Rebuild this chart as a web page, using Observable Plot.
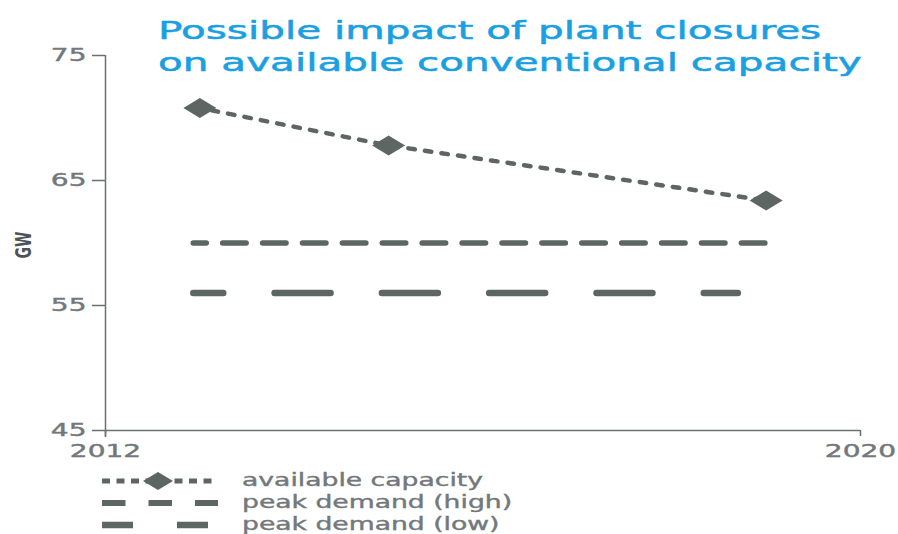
<!DOCTYPE html>
<html>
<head>
<meta charset="utf-8">
<script src="https://cdn.jsdelivr.net/npm/d3@7"></script>
<script src="https://cdn.jsdelivr.net/npm/@observablehq/plot@0.6"></script>
<style>
  body { margin: 0; background: #fff; }
  #chart { position: relative; width: 898px; height: 534px; overflow: hidden; }
  #title {
    position: absolute; left: 158px; top: 15px; z-index: 2;
    font-family: "DejaVu Sans", sans-serif; font-size: 25px; line-height: 32px;
    color: #1a9fe3; white-space: nowrap;
    -webkit-text-stroke: 0.5px #1a9fe3;
    transform: scaleX(1.62); transform-origin: 0 0;
  }
</style>
</head>
<body>
<div id="chart">
  <div id="title">Possible impact of plant closures<br>on available conventional capacity</div>
</div>
<script>
// Available conventional capacity (GW) at the three assessment years
const capacityYears = [2013, 2015, 2019];
const capacityGW = [70.8, 67.8, 63.4];

// Peak demand scenarios (GW), flat over the period
const highYears = [2012.93, 2019];
const highGW = [60, 60];
const lowYears = [2012.93, 2018.7];
const lowGW = [56, 56];

// Axis ticks
const yTicks = [45, 55, 65, 75];
const xTicks = [2012, 2020];

// Legend entries
const legendLabels = ["available capacity", "peak demand (high)", "peak demand (low)"];

const ink = "#5e6664";
const axisInk = "#6b706f";
const labelInk = "#72787c";

const capacity = capacityYears.map((x, i) => ({x, y: capacityGW[i]}));
const high = highYears.map((x, i) => ({x, y: highGW[i]}));
const low = lowYears.map((x, i) => ({x, y: lowGW[i]}));

// Flattened diamond marker
const flatDiamond = (w, h) => ({
  draw(ctx) {
    ctx.moveTo(-w / 2, 0);
    ctx.lineTo(0, -h / 2);
    ctx.lineTo(w / 2, 0);
    ctx.lineTo(0, h / 2);
    ctx.closePath();
  }
});

const plot = Plot.plot({
  width: 898,
  height: 534,
  marginTop: 55,
  marginBottom: 104,
  marginLeft: 105,
  marginRight: 38,
  x: {domain: [2012, 2020]},
  y: {domain: [45, 75]},
  style: {fontFamily: "DejaVu Sans, sans-serif", background: "white", overflow: "visible"},
  marks: [
    Plot.axisY({ticks: yTicks, tickSize: 13, tickPadding: 6, tickFormat: d => String(d),
      fontSize: 17, stroke: axisInk, strokeWidth: 1.5, fill: labelInk, label: null}),
    Plot.axisX({ticks: xTicks, tickSize: 6, tickPadding: 8, tickFormat: d => String(d),
      fontSize: 17, stroke: axisInk, strokeWidth: 1.5, fill: labelInk, label: null}),
    Plot.ruleX([2012], {stroke: axisInk, strokeWidth: 1.5, insetBottom: -7}),
    Plot.ruleY([45], {stroke: axisInk, strokeWidth: 1.5}),
    Plot.line(capacity, {x: "x", y: "y", stroke: ink, strokeWidth: 4.5,
      strokeDasharray: "6.5,10.2", strokeDashoffset: -12}),
    Plot.line(high, {x: "x", y: "y", stroke: ink, strokeWidth: 5.5,
      strokeDasharray: "23.5,16.4", strokeDashoffset: 10.5}),
    Plot.line(low, {x: "x", y: "y", stroke: ink, strokeWidth: 6.5,
      strokeDasharray: "56,51.3", strokeDashoffset: 26}),
    Plot.dot(capacity, {x: "x", y: "y", symbol: flatDiamond(33, 20), fill: ink, stroke: null})
  ]
});

document.getElementById("chart").appendChild(plot);

const svg = d3.select(plot);

// Wide, slightly heavier lettering for the tick labels
svg.selectAll('g[aria-label="y-axis tick label"] text, g[aria-label="x-axis tick label"] text')
  .attr("transform", function () { return (this.getAttribute("transform") || "") + " scale(1.65,1)"; })
  .attr("stroke", labelInk)
  .attr("stroke-width", 0.4);

// Rotated unit label
svg.append("text")
  .attr("transform", "translate(23,245) rotate(-90) scale(1,1.5)")
  .attr("text-anchor", "middle")
  .attr("dy", "0.36em")
  .attr("font-size", 14)
  .attr("font-weight", "bold")
  .attr("fill", "#4d5357")
  .text("GW");

// Legend
const rowY = [481, 503, 525];
const x0 = 102, x1 = 218;
const leg = svg.append("g").attr("aria-label", "legend");
const samples = [
  {dash: "8,6.5", width: 5},
  {dash: "23.5,23", width: 6},
  {dash: "31,44", width: 6.5}
];
samples.forEach((s, i) => {
  leg.append("line")
    .attr("x1", x0).attr("x2", x1).attr("y1", rowY[i]).attr("y2", rowY[i])
    .attr("stroke", ink).attr("stroke-width", s.width).attr("stroke-dasharray", s.dash);
});
leg.append("path")
  .attr("transform", `translate(158,${rowY[0]})`)
  .attr("d", "M-15,0L0,-9L15,0L0,9Z")
  .attr("fill", ink);
legendLabels.forEach((t, i) => {
  leg.append("text")
    .attr("transform", `translate(242,${rowY[i]}) scale(1.48,1)`)
    .attr("text-anchor", "start")
    .attr("dy", "0.3em")
    .attr("font-size", 18)
    .attr("fill", labelInk)
    .attr("stroke", labelInk)
    .attr("stroke-width", 0.4)
    .text(t);
});
</script>
</body>
</html>
